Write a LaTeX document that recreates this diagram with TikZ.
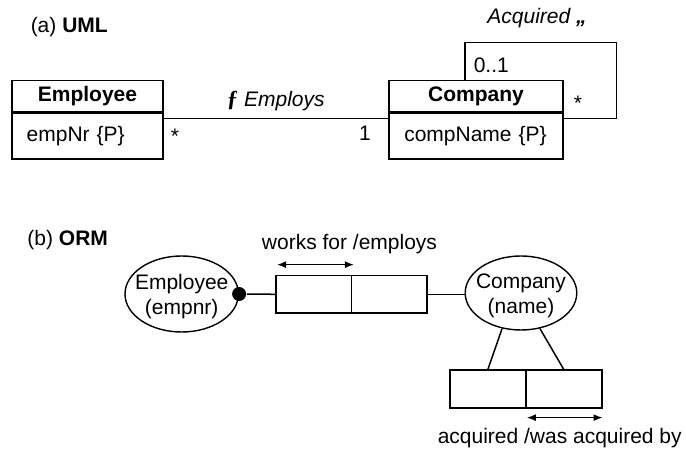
\documentclass[tikz,border=0pt]{standalone}
\usepackage{fontspec}
\setmainfont{Liberation Sans}
\newfontfamily\glyphserif{Liberation Serif}
\usetikzlibrary{shapes.geometric,arrows.meta}

\begin{document}
\begin{tikzpicture}[x=1pt,y=-1pt,
  font=\fontsize{21}{25}\selectfont,
  line width=1.5pt,
  txt/.style={inner sep=0pt},
  clshead/.style={draw, line width=1.8pt, minimum width=#1, minimum height=31pt, inner sep=0pt, font=\fontsize{21}{25}\selectfont\bfseries},
  clsattr/.style={draw, line width=1.8pt, text width=#1-30pt, inner xsep=15pt, inner ysep=0pt, minimum height=45.5pt, align=left},
  objtype/.style={draw, ellipse, line width=1.4pt, inner sep=0pt},
  objname/.style={label={[inner sep=0pt, align=center, yshift=-3pt]center:#1}},
  rolebox/.style={draw, line width=1.8pt, minimum width=#1, minimum height=37.5pt, inner sep=0pt},
  uniq/.style={line width=1.2pt, {Latex[length=9pt,width=7pt]}-{Latex[length=9pt,width=7pt]}},
]
\useasboundingbox (0,0) rectangle (686,454);

% ---------- (a) UML class diagram ----------
\node[txt, anchor=west] (titleA) at (30,27) {(a) \textbf{UML}};

\node[clshead=151.6pt] (emp) at (87.5,96) {Employee};
\node[clsattr=151.6pt, anchor=north] (empattr) at (emp.south) {empNr \{P\}};

\node[clshead=173.4pt] (comp) at (476,96) {Company};
\node[clsattr=173.4pt, anchor=north] (compattr) at (comp.south) {compName \{P\}};

% Employs association
\draw ([yshift=-6pt]empattr.north east) -- ([yshift=-6pt]compattr.north west);
\node[txt, anchor=west] (assoc) at (226,101) {{\glyphserif\bfseries\fontsize{23}{25}\selectfont ƒ} \itshape Employs};
\node[txt] (multE) at (175,136) {*};
\node[txt] (multC) at (365,133.5) {1};

% Acquired self-association
\coordinate (loopA) at (465,42.5);
\coordinate (loopB) at (616.7,42.5);
\draw (comp.north -| loopA) -- (loopA) -- (loopB) |- ([yshift=-6pt]compattr.north east);
\node[txt] (acq) at (537,18) {\itshape Acquired {\bfseries „}};
\node[txt, anchor=west] (multL) at (473,65) {0..1};
\node[txt] (multR) at (578,103.5) {*};

% ---------- (b) ORM diagram ----------
\node[txt, anchor=west] (titleB) at (26.7,240.5) {(b) \textbf{ORM}};

\node[objtype, minimum width=113.4pt, minimum height=76pt, objname={Employee\\(empnr)}] (oEmp) at (181.7,294) {};
\node[objtype, minimum width=111.6pt, minimum height=74pt, objname={Company\\(name)}] (oComp) at (521,293) {};

% works for / employs
\node[rolebox=75.5pt] (r1) at (313.75,294.3) {};
\node[rolebox=75.5pt] (r2) at (389.25,294.3) {};
\node[circle, fill, inner sep=0pt, minimum size=14pt] (mand) at (oEmp.east) {};
\draw (mand.east) -- (r1.west);
\draw (r2.east) -- (oComp.west |- r2.east);
\draw[uniq] ([shift={(2pt,10pt)}]r1.north west) -- ([shift={(1.5pt,10pt)}]r1.north east);
\node[txt] (lblWorks) at (349.5,244.5) {works for /employs};

% acquired / was acquired by
\node[rolebox=75.8pt] (s1) at (487.9,389) {};
\node[rolebox=75.8pt] (s2) at (563.7,389) {};
\draw (s1.north) -- (oComp.242);
\draw (s2.north) -- (oComp.298);
\draw[uniq] ([shift={(2pt,-9pt)}]s2.south west) -- ([shift={(0pt,-9pt)}]s2.south east);
\node[txt, anchor=west] (lblAcq) at (437,438) {acquired /was acquired by};
\end{tikzpicture}
\end{document}
